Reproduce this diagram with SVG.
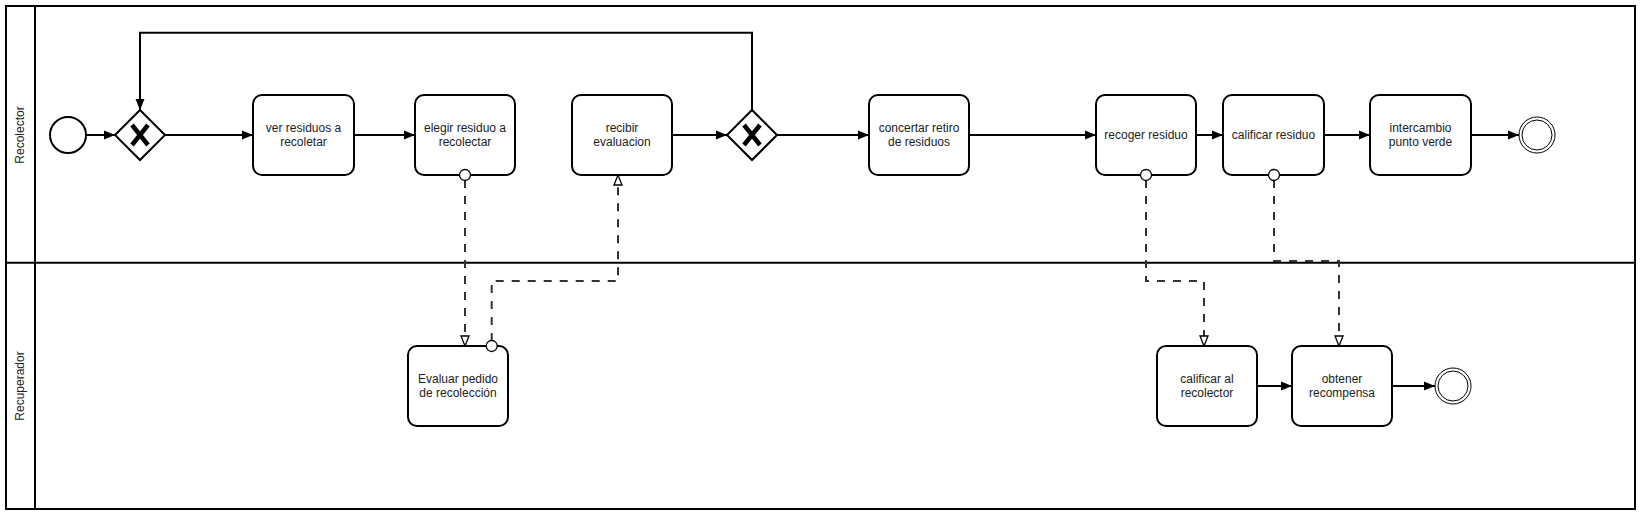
<svg xmlns="http://www.w3.org/2000/svg" width="1641" height="515" viewBox="0 0 1641 515">
<style>
.pool{fill:#fff;stroke:#000;stroke-width:2}
.task{fill:#fff;stroke:#000;stroke-width:2}
.lbl{font-family:"Liberation Sans",Arial,sans-serif;font-size:12px;fill:#222;text-anchor:middle}
.seq{fill:none;stroke:#000;stroke-width:2}
.msg{fill:none;stroke:#333;stroke-width:2;stroke-dasharray:8 8}
.gw{fill:#fff;stroke:#000;stroke-width:2}
.x{stroke:#000;stroke-width:4.5;stroke-linecap:butt;fill:none}
.mc{fill:#fff;stroke:#000;stroke-width:1.3}
</style>
<defs>
<marker id="arr" markerUnits="userSpaceOnUse" markerWidth="12" markerHeight="10" refX="11" refY="5" orient="auto">
<path d="M0,0.5 L11,5 L0,9.5 z" fill="#000"/>
</marker>
<marker id="open" markerUnits="userSpaceOnUse" markerWidth="12" markerHeight="12" refX="11" refY="5" orient="auto">
<path d="M1,1 L11,5 L1,9 z" fill="#fff" stroke="#000" stroke-width="1.3"/>
</marker>
</defs>
<g id="pool">
<rect class="pool" x="6" y="6" width="1629" height="503"/>
<line x1="6" y1="262.7" x2="1635" y2="262.7" stroke="#000" stroke-width="2"/>
<line x1="35" y1="6" x2="35" y2="509" stroke="#000" stroke-width="2"/>
</g>
<g id="lane-recolector"><text class="lbl" transform="translate(24,135) rotate(-90)">Recolector</text></g>
<g id="lane-recuperador"><text class="lbl" transform="translate(24,386) rotate(-90)">Recuperador</text></g>
<g id="start"><circle cx="68" cy="135" r="18" fill="#fff" stroke="#000" stroke-width="2"/></g>
<g id="gw1"><polygon class="gw" points="140,110 165,135 140,160 115,135"/><path class="x" d="M132,125 L148,145 M148,125 L132,145"/></g>
<g id="gw2"><polygon class="gw" points="752,110 777,135 752,160 727,135"/><path class="x" d="M744,125 L760,145 M760,125 L744,145"/></g>
<g id="t1"><rect class="task" x="253" y="95" width="101" height="80" rx="9"/><text class="lbl" x="303.5" y="132.3">ver residuos a</text><text class="lbl" x="303.5" y="146.3">recoletar</text></g>
<g id="t2"><rect class="task" x="415" y="95" width="100" height="80" rx="9"/><text class="lbl" x="465" y="132.3">elegir residuo a</text><text class="lbl" x="465" y="146.3">recolectar</text></g>
<g id="t3"><rect class="task" x="572" y="95" width="100" height="80" rx="9"/><text class="lbl" x="622" y="132.3">recibir</text><text class="lbl" x="622" y="146.3">evaluacion</text></g>
<g id="t4"><rect class="task" x="869" y="95" width="100" height="80" rx="9"/><text class="lbl" x="919" y="132.3">concertar retiro</text><text class="lbl" x="919" y="146.3">de residuos</text></g>
<g id="t5"><rect class="task" x="1096" y="95" width="100" height="80" rx="9"/><text class="lbl" x="1146" y="139.3">recoger residuo</text></g>
<g id="t6"><rect class="task" x="1223" y="95" width="101" height="80" rx="9"/><text class="lbl" x="1273.5" y="139.3">calificar residuo</text></g>
<g id="t7"><rect class="task" x="1370" y="95" width="101" height="80" rx="9"/><text class="lbl" x="1420.5" y="132.3">intercambio</text><text class="lbl" x="1420.5" y="146.3">punto verde</text></g>
<g id="end1"><circle cx="1537" cy="135" r="18" fill="#fff" stroke="#000" stroke-width="1"/><circle cx="1537" cy="135" r="15" fill="none" stroke="#000" stroke-width="1"/></g>
<g id="t8"><rect class="task" x="408" y="346" width="100" height="80" rx="9"/><text class="lbl" x="458" y="383.3">Evaluar pedido</text><text class="lbl" x="458" y="397.3">de recolección</text></g>
<g id="t9"><rect class="task" x="1157" y="346" width="100" height="80" rx="9"/><text class="lbl" x="1207" y="383.3">calificar al</text><text class="lbl" x="1207" y="397.3">recolector</text></g>
<g id="t10"><rect class="task" x="1292" y="346" width="100" height="80" rx="9"/><text class="lbl" x="1342" y="383.3">obtener</text><text class="lbl" x="1342" y="397.3">recompensa</text></g>
<g id="end2"><circle cx="1453" cy="386" r="18" fill="#fff" stroke="#000" stroke-width="1"/><circle cx="1453" cy="386" r="15" fill="none" stroke="#000" stroke-width="1"/></g>
<g id="connectors">
<line class="seq" x1="86" y1="135" x2="115" y2="135" marker-end="url(#arr)"/>
<line class="seq" x1="165" y1="135" x2="253" y2="135" marker-end="url(#arr)"/>
<line class="seq" x1="354" y1="135" x2="415" y2="135" marker-end="url(#arr)"/>
<line class="seq" x1="672" y1="135" x2="727" y2="135" marker-end="url(#arr)"/>
<line class="seq" x1="777" y1="135" x2="869" y2="135" marker-end="url(#arr)"/>
<line class="seq" x1="969" y1="135" x2="1096" y2="135" marker-end="url(#arr)"/>
<line class="seq" x1="1196" y1="135" x2="1223" y2="135" marker-end="url(#arr)"/>
<line class="seq" x1="1324" y1="135" x2="1370" y2="135" marker-end="url(#arr)"/>
<line class="seq" x1="1471" y1="135" x2="1519" y2="135" marker-end="url(#arr)"/>
<line class="seq" x1="1257" y1="386" x2="1292" y2="386" marker-end="url(#arr)"/>
<line class="seq" x1="1392" y1="386" x2="1435" y2="386" marker-end="url(#arr)"/>
<polyline class="seq" points="752,110 752,32.7 140,32.7 140,110" marker-end="url(#arr)"/>
<line class="msg" x1="465" y1="180" x2="465" y2="346" marker-end="url(#open)"/>
<polyline class="msg" points="491.7,341 491.7,281 618,281 618,175" marker-end="url(#open)"/>
<polyline class="msg" points="1146,180 1146,281 1204,281 1204,346" marker-end="url(#open)"/>
<polyline class="msg" points="1274,180 1274,261 1339,261 1339,346" marker-end="url(#open)"/>
<circle class="mc" cx="465" cy="175" r="5.5"/>
<circle class="mc" cx="491.7" cy="346" r="5.5"/>
<circle class="mc" cx="1146" cy="175" r="5.5"/>
<circle class="mc" cx="1274" cy="175" r="5.5"/>
</g>
</svg>
